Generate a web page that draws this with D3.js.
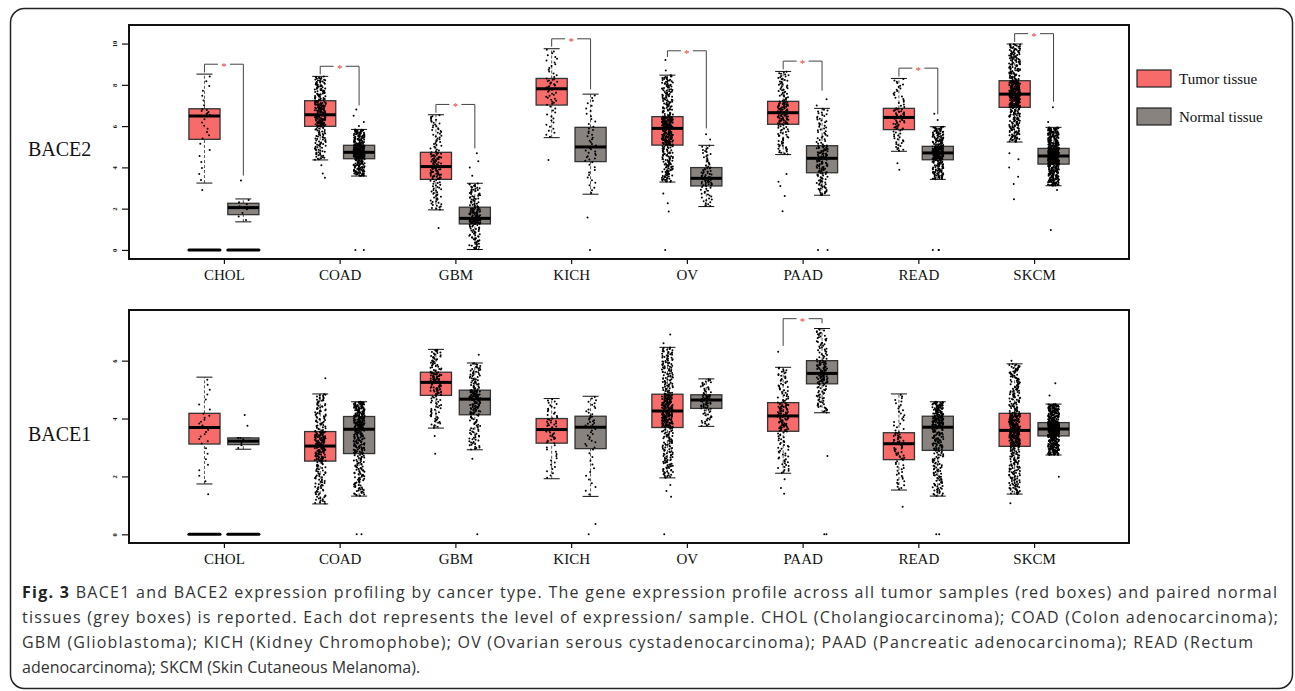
<!DOCTYPE html>
<html>
<head>
<meta charset="utf-8">
<script src="https://cdn.jsdelivr.net/npm/d3@7"></script>
<style>
    body { margin: 0; background: #fff; }
    svg text { font-family: "Liberation Serif", "Times New Roman", serif; }
    svg .caption text { font-family: "Open Sans", sans-serif; font-size: 16px; fill: #333; }
</style>
</head>
<body>
<div id="chart"></div>
<script>
const width = 1295;
const height = 691;

const categories = ["CHOL", "COAD", "GBM", "KICH", "OV", "PAAD", "READ", "SKCM"];
const groups = ["Tumor tissue", "Normal tissue"];
const groupColors = ["#F76B6B", "#88837F"];

// sample counts per category (tumor / normal)
const tumorN = [30, 275, 163, 66, 426, 179, 92, 461];
const normalN = [9, 349, 207, 53, 88, 171, 318, 558];

// categories where many samples sit at 0 (drawn as a dense band)
const zeroBandCats = ["CHOL"];

// five-number summaries: [low whisker, q1, median, q3, high whisker]
const bace2Tumor = [
    [3.24, 5.36, 6.49, 6.84, 8.52],
    [4.36, 5.99, 6.55, 7.23, 8.41],
    [1.94, 3.42, 4.04, 4.73, 6.55],
    [5.44, 7.02, 7.81, 8.31, 9.75],
    [3.29, 5.08, 5.89, 6.46, 8.47],
    [4.62, 6.09, 6.65, 7.20, 8.65],
    [4.78, 5.83, 6.42, 6.86, 8.31],
    [5.23, 6.91, 7.55, 8.20, 9.98],
];
const bace2Normal = [
    [1.36, 1.71, 2.05, 2.26, 2.47],
    [3.58, 4.42, 4.73, 5.07, 5.84],
    [0.02, 1.26, 1.53, 2.07, 3.23],
    [2.70, 4.28, 4.99, 5.94, 7.55],
    [2.10, 3.10, 3.47, 3.99, 5.07],
    [2.65, 3.74, 4.44, 5.05, 6.86],
    [3.42, 4.37, 4.70, 5.02, 5.97],
    [3.11, 4.16, 4.55, 4.92, 5.94],
];
const bace2TumorOut = [
    [2.9],
    [3.5, 3.7, 4.1],
    [1.06],
    [4.36],
    [8.7, 9.2, 2.74, 2.26, 1.86, 0],
    [3.68, 3.3, 3.1, 2.61, 1.87],
    [4.2, 3.88],
    [4.68, 4.4, 4.0, 3.55, 3.2, 2.45],
];
const bace2NormalOut = [
    [3.36],
    [6.0, 6.2, 6.5, 6.8, 0, 0],
    [3.6, 4.0, 4.3, 4.68],
    [1.57, 0],
    [5.35, 5.6],
    [7.0, 7.3, 0, 0],
    [6.3, 6.6, 0, 0, 0],
    [6.91, 6.2, 2.9, 0.97],
];
// significance brackets: category, bracket height, left leg end, right leg end
const bace2Sig = [
    ["CHOL", 9.0, 8.6, 3.6],
    ["COAD", 8.9, 8.5, 7.0],
    ["GBM", 7.05, 6.65, 4.92],
    ["KICH", 10.23, 9.85, 7.78],
    ["OV", 9.65, 9.35, 5.89],
    ["PAAD", 9.15, 8.75, 7.72],
    ["READ", 8.81, 8.4, 6.57],
    ["SKCM", 10.48, 10.08, 7.18],
];

const bace1Tumor = [
    [1.74, 3.12, 3.69, 4.18, 5.43],
    [1.05, 2.53, 3.05, 3.55, 4.85],
    [3.67, 4.80, 5.25, 5.60, 6.39],
    [1.92, 3.15, 3.62, 4.00, 4.69],
    [1.95, 3.69, 4.26, 4.84, 6.46],
    [2.11, 3.56, 4.09, 4.55, 5.77],
    [1.53, 2.58, 3.13, 3.51, 4.85],
    [1.39, 3.04, 3.59, 4.18, 5.89],
];
const bace1Normal = [
    [2.94, 3.10, 3.22, 3.33, 3.33],
    [1.32, 2.79, 3.63, 4.07, 4.58],
    [2.92, 4.13, 4.67, 4.98, 5.92],
    [1.31, 2.96, 3.70, 4.08, 4.77],
    [3.73, 4.35, 4.64, 4.82, 5.37],
    [4.20, 5.20, 5.56, 6.00, 7.11],
    [1.32, 2.90, 3.70, 4.08, 4.58],
    [2.74, 3.40, 3.64, 3.86, 4.50],
];
const bace1TumorOut = [
    [1.38],
    [5.39],
    [3.40, 2.78],
    [],
    [6.90, 6.6, 1.7, 1.5, 1.3, 0],
    [6.31, 1.9, 1.6, 1.4],
    [0.95],
    [6.0, 1.07],
];
const bace1NormalOut = [
    [4.12, 3.75],
    [0, 0],
    [6.2, 2.61, 0],
    [0.36, 0],
    [],
    [2.71, 0, 0],
    [0, 0],
    [5.22, 4.8, 1.99],
];
const bace1Sig = [["PAAD", 7.45, 6.51, 7.29]];

const captionLines = [
    "BACE1 and BACE2 expression profiling by cancer type. The gene expression profile across all tumor samples (red boxes) and paired normal",
    "tissues (grey boxes) is reported. Each dot represents the level of expression/ sample. CHOL (Cholangiocarcinoma); COAD (Colon adenocarcinoma);",
    "GBM (Glioblastoma); KICH (Kidney Chromophobe); OV (Ovarian serous cystadenocarcinoma); PAAD (Pancreatic adenocarcinoma); READ (Rectum",
    "adenocarcinoma); SKCM (Skin Cutaneous Melanoma).",
];

const svg = d3
    .select("#chart")
    .append("svg")
    .attr("width", width)
    .attr("height", height);

// outer figure border
svg.append("rect")
    .attr("x", 10.5)
    .attr("y", 8.5)
    .attr("width", 1282)
    .attr("height", 680)
    .attr("rx", 14)
    .attr("fill", "none")
    .attr("stroke", "#222")
    .attr("stroke-width", 1.5);

const plotLeft = 129;
const plotRight = 1129;

const x = d3.scalePoint().domain(categories).range([plotLeft, plotRight]).padding(0.82);
const sub = d3.scaleBand().domain(groups).range([-35, 35]).paddingInner(0.2);

const panels = [
    {
        label: "BACE2", top: 25, bottom: 259, domain: [-0.44, 10.9], ticks: [0, 2, 4, 6, 8, 10],
        stats: [bace2Tumor, bace2Normal], outliers: [bace2TumorOut, bace2NormalOut], sig: bace2Sig,
    },
    {
        label: "BACE1", top: 310, bottom: 543, domain: [-0.3, 7.75], ticks: [0, 2, 4, 6],
        stats: [bace1Tumor, bace1Normal], outliers: [bace1TumorOut, bace1NormalOut], sig: bace1Sig,
    },
];

// spread the dots of a group through its five-number summary
function dotValues(s, count) {
    const vals = [];
    for (let i = 0; i < count; i++) {
        const t = ((i + 0.5) / count) * 4;
        const k = Math.min(3, Math.floor(t));
        vals.push(s[k] + (s[k + 1] - s[k]) * (t - k));
    }
    return vals;
}
// fixed horizontal scatter so the dots do not sit on one vertical line
const jitter = (i, seed) => {
    const h = Math.sin((i + 1) * 78.233 + seed * 12.9898) * 43758.5453;
    return (h - Math.floor(h) - 0.5) * 11;
};

function drawPanel(p, pi) {
    const y = d3.scaleLinear().domain(p.domain).range([p.bottom, p.top]);
    const g = svg.append("g");

    // y axis (rotated tick labels)
    g.append("g")
        .attr("transform", `translate(${plotLeft},0)`)
        .call(d3.axisLeft(y).tickValues(p.ticks).tickSize(7))
        .call((a) => a.select(".domain").remove())
        .call((a) => a.selectAll(".tick line").attr("stroke", "#111").attr("stroke-width", 1.2))
        .call((a) =>
            a.selectAll(".tick text")
                .attr("transform", "rotate(-90)")
                .attr("x", 0)
                .attr("y", -14)
                .attr("dy", "0.35em")
                .attr("text-anchor", "middle")
                .attr("font-family", "DejaVu Sans")
                .attr("font-weight", 700)
                .attr("font-size", 6.5)
                .attr("fill", "#111")
        );

    // x axis
    g.append("g")
        .attr("transform", `translate(0,${p.bottom})`)
        .call(d3.axisBottom(x).tickSize(5).tickPadding(5))
        .call((a) => a.select(".domain").remove())
        .call((a) => a.selectAll(".tick line").attr("stroke", "#111").attr("stroke-width", 1.2))
        .call((a) =>
            a.selectAll(".tick text")
                .attr("font-family", "Liberation Serif")
                .attr("font-size", 15)
                .attr("fill", "#111")
        );

    // gene label
    g.append("text")
        .attr("x", 28)
        .attr("y", (p.top + p.bottom) / 2 + 14)
        .attr("font-size", 20)
        .attr("fill", "#111")
        .text(p.label);

    const marks = g.append("g");

    categories.forEach((cat, ci) => {
        groups.forEach((grp, gi) => {
            const s = p.stats[gi][ci];
            const cx = x(cat) + sub(grp) + sub.bandwidth() / 2;
            const bw = sub.bandwidth();
            const gg = marks.append("g");

            // whiskers
            gg.selectAll("line.wh")
                .data([[s[3], s[4]], [s[0], s[1]]])
                .join("line")
                .attr("x1", cx).attr("x2", cx)
                .attr("y1", (d) => y(d[0])).attr("y2", (d) => y(d[1]))
                .attr("stroke", "#555")
                .attr("stroke-width", 1)
                .attr("stroke-dasharray", "3,2");
            gg.selectAll("line.cap")
                .data([s[0], s[4]])
                .join("line")
                .attr("x1", cx - 8).attr("x2", cx + 8)
                .attr("y1", (d) => y(d)).attr("y2", (d) => y(d))
                .attr("stroke", "#111")
                .attr("stroke-width", 1);

            // box
            gg.append("rect")
                .attr("x", cx - bw / 2)
                .attr("y", y(s[3]))
                .attr("width", bw)
                .attr("height", Math.max(1, y(s[1]) - y(s[3])))
                .attr("fill", groupColors[gi])
                .attr("stroke", "#333")
                .attr("stroke-width", 1.3);
            gg.append("line")
                .attr("x1", cx - bw / 2).attr("x2", cx + bw / 2)
                .attr("y1", y(s[2])).attr("y2", y(s[2]))
                .attr("stroke", "#000")
                .attr("stroke-width", 3);

            // dots
            const n = gi === 0 ? tumorN[ci] : normalN[ci];
            const outs = p.outliers[gi][ci];
            const vals = dotValues(s, Math.max(0, n - outs.length)).concat(outs);
            const seed = pi * 100 + ci * 10 + gi;
            gg.selectAll("circle.dot")
                .data(vals)
                .join("circle")
                .attr("cx", (d, i) => cx + jitter(i, seed))
                .attr("cy", (d) => y(d))
                .attr("r", 1)
                .attr("fill", "#000");

            if (zeroBandCats.includes(cat)) {
                gg.append("line")
                    .attr("x1", cx - bw / 2).attr("x2", cx + bw / 2)
                    .attr("y1", y(0)).attr("y2", y(0))
                    .attr("stroke", "#000")
                    .attr("stroke-width", 3)
                    .attr("stroke-linecap", "round");
            }
        });
    });

    // significance brackets
    p.sig.forEach(([cat, top, leftEnd, rightEnd]) => {
        const lx = x(cat) + sub(groups[0]) + sub.bandwidth() / 2;
        const rx = x(cat) + sub(groups[1]) + sub.bandwidth() / 2;
        const mx = (lx + rx) / 2;
        const bg = marks.append("g").attr("fill", "none").attr("stroke", "#444").attr("stroke-width", 1);
        bg.append("path").attr("d", `M${lx},${y(leftEnd)}V${y(top)}H${mx - 6}`);
        bg.append("path").attr("d", `M${mx + 6},${y(top)}H${rx}V${y(rightEnd)}`);
        marks.append("text")
            .attr("x", mx)
            .attr("y", y(top) + 6)
            .attr("text-anchor", "middle")
            .attr("font-family", "DejaVu Sans")
            .attr("font-size", 11)
            .attr("fill", "#E8403C")
            .text("*");
    });

    // panel frame
    g.append("rect")
        .attr("x", plotLeft)
        .attr("y", p.top)
        .attr("width", plotRight - plotLeft)
        .attr("height", p.bottom - p.top)
        .attr("fill", "none")
        .attr("stroke", "#111")
        .attr("stroke-width", 2);
}

panels.forEach(drawPanel);

// legend
const legend = svg.append("g").attr("transform", "translate(1137,70)");
const legendItems = legend
    .selectAll("g.item")
    .data(groups)
    .join("g")
    .attr("transform", (d, i) => `translate(0,${i * 38})`);
legendItems.append("rect")
    .attr("width", 34)
    .attr("height", 17)
    .attr("fill", (d, i) => groupColors[i])
    .attr("stroke", "#222")
    .attr("stroke-width", 1.2);
legendItems.append("text")
    .attr("x", 42)
    .attr("y", 14)
    .attr("font-size", 15)
    .attr("fill", "#111")
    .text((d) => d);

// caption
const cap = svg.append("g").attr("class", "caption");
const lineEnds = [1277, 1278, 1253, null];
captionLines.forEach((line, i) => {
    const t = cap.append("text").attr("x", 22).attr("y", 598 + i * 25);
    if (i === 0) {
        t.append("tspan").attr("font-weight", 700).attr("fill", "#222").text("Fig. 3");
        t.append("tspan").text(" " + line);
    } else {
        t.text(line);
    }
    if (lineEnds[i]) t.attr("textLength", lineEnds[i] - 22).attr("lengthAdjust", "spacing");
});
</script>
</body>
</html>
